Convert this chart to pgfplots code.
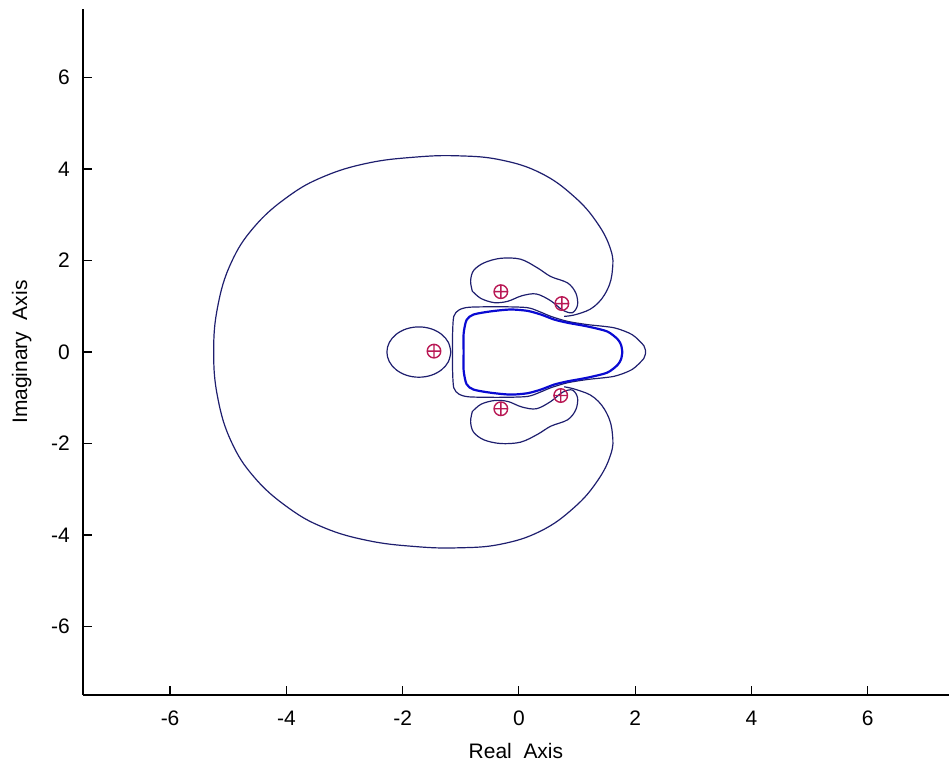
\documentclass[border=0pt]{standalone}
\usepackage{pgfplots}
\pgfplotsset{compat=1.18}
\usepackage{fontspec}
\setmainfont{Liberation Sans}
\definecolor{navyc}{RGB}{30,30,110}
\definecolor{bluec}{RGB}{10,10,210}
\definecolor{markc}{RGB}{185,25,85}
\begin{document}
\begin{tikzpicture}
\begin{axis}[
  scale only axis,
  width=433.6pt, height=343.5pt,
  xmin=-7.5, xmax=7.4, ymin=-7.5, ymax=7.5,
  axis x line=bottom, axis y line=left,
  axis line style={-, line width=0.7pt, black},
  tick align=inside, major tick length=4.5pt,
  tick style={line width=0.6pt, black},
  xtick={-6,-4,-2,0,2,4,6}, ytick={-6,-4,-2,0,2,4,6},
  xticklabels={-6,-4,-2,0,2,4,6}, yticklabels={-6,-4,-2,0,2,4,6},
  ticklabel style={font=\fontsize{10.5}{12}\selectfont},
  xticklabel style={yshift=-4.5pt},
  yticklabel style={xshift=-3pt},
  xlabel={Real\ \ Axis}, ylabel={Imaginary\ \ Axis},
  label style={font=\fontsize{10.5}{12}\selectfont},
  xlabel style={yshift=-2pt},
  ylabel style={yshift=3pt},
  clip=false,
]
% outer curve
\addplot[navyc, line width=0.6pt, smooth, tension=0.7] coordinates {
(0.78,-0.76) (1.01,-0.83) (1.30,-1.00) (1.52,-1.36) (1.61,-1.80) (1.58,-2.24) (1.35,-2.82) (0.95,-3.40) (0.38,-3.91) (-0.31,-4.20) (-1.05,-4.28) (-1.80,-4.25) (-2.60,-4.12) (-3.35,-3.84) (-3.97,-3.40) (-4.55,-2.74) (-4.95,-1.95) (-5.18,-1.00) (-5.25,0)
(-5.18,1.00) (-4.95,1.95) (-4.55,2.74) (-3.97,3.40) (-3.35,3.84) (-2.60,4.13) (-1.80,4.26) (-1.05,4.29) (-0.31,4.20) (0.38,3.91) (0.95,3.40) (1.35,2.82) (1.58,2.24) (1.61,1.80) (1.52,1.36) (1.30,1.00) (1.01,0.83) (0.78,0.78)
};
% top lobe
\addplot[navyc, line width=0.6pt, smooth, tension=0.55] coordinates {
(-0.80,1.33) (-0.83,1.55) (-0.78,1.78) (-0.60,1.95) (-0.31,2.05) (0.03,2.03) (0.32,1.84) (0.55,1.65) (0.84,1.51) (0.98,1.29) (1.01,1.03) (0.92,0.86) (0.75,0.92) (0.55,1.12) (0.30,1.27) (0.05,1.23) (-0.19,1.11) (-0.42,1.08) (-0.65,1.17) (-0.80,1.33)
};
% bottom lobe
\addplot[navyc, line width=0.6pt, smooth, tension=0.55] coordinates {
(-0.80,-1.30) (-0.83,-1.52) (-0.78,-1.75) (-0.60,-1.92) (-0.31,-2.00) (0.03,-1.97) (0.32,-1.80) (0.55,-1.62) (0.84,-1.48) (0.98,-1.26) (1.01,-1.00) (0.92,-0.83) (0.75,-0.88) (0.55,-1.08) (0.30,-1.24) (0.05,-1.20) (-0.19,-1.08) (-0.42,-1.06) (-0.65,-1.14) (-0.80,-1.30)
};
% left circle
\addplot[navyc, line width=0.6pt, smooth, tension=0.6] coordinates {
(-1.17,0) (-1.212,0.211) (-1.331,0.389) (-1.509,0.508) (-1.72,0.55) (-1.931,0.508) (-2.109,0.389) (-2.228,0.211) (-2.27,0) (-2.228,-0.211) (-2.109,-0.389) (-1.931,-0.508) (-1.72,-0.55) (-1.509,-0.508) (-1.331,-0.389) (-1.212,-0.211) (-1.17,0)
};
% middle contour
\addplot[navyc, line width=0.6pt, smooth, tension=0.45] coordinates {
(2.18,0) (2.15,0.14) (1.95,0.38) (1.64,0.53) (1.18,0.60) (0.84,0.67) (0.55,0.78) (0.38,0.87) (0.15,0.97) (-0.30,0.99) (-0.85,0.98) (-1.03,0.92) (-1.12,0.78) (-1.14,0.40) (-1.14,0) (-1.14,-0.40) (-1.12,-0.78) (-1.03,-0.92) (-0.85,-0.98) (-0.30,-0.99) (0.15,-0.97) (0.38,-0.87) (0.55,-0.78) (0.84,-0.67) (1.18,-0.60) (1.64,-0.53) (1.95,-0.38) (2.15,-0.14) (2.18,0)
};
% inner bold contour
\addplot[bluec, line width=1.1pt, smooth, tension=0.45] coordinates {
(1.78,0) (1.76,0.15) (1.70,0.28) (1.52,0.45) (1.18,0.56) (0.84,0.64) (0.61,0.71) (0.38,0.82) (0.15,0.90) (-0.14,0.93) (-0.48,0.89) (-0.78,0.82) (-0.90,0.70) (-0.95,0.40) (-0.95,0) (-0.95,-0.40) (-0.90,-0.70) (-0.78,-0.82) (-0.48,-0.89) (-0.14,-0.93) (0.15,-0.90) (0.38,-0.82) (0.61,-0.71) (0.84,-0.64) (1.18,-0.56) (1.52,-0.45) (1.70,-0.28) (1.76,-0.15) (1.78,0)
};
% poles/zeros markers
\addplot[only marks, mark=oplus, mark size=3.4pt, markc, mark options={line width=0.7pt}] coordinates {
(-1.46,0.02) (-0.31,1.32) (0.74,1.06) (-0.31,-1.24) (0.72,-0.95)
};
\coordinate (bl) at (rel axis cs:0,0);
\coordinate (tr) at (rel axis cs:1,1);
\end{axis}
\pgfresetboundingbox
\path[use as bounding box] ([xshift=-41.5pt,yshift=-35.5pt]bl) rectangle ([yshift=4.5pt]tr);
\end{tikzpicture}
\end{document}
